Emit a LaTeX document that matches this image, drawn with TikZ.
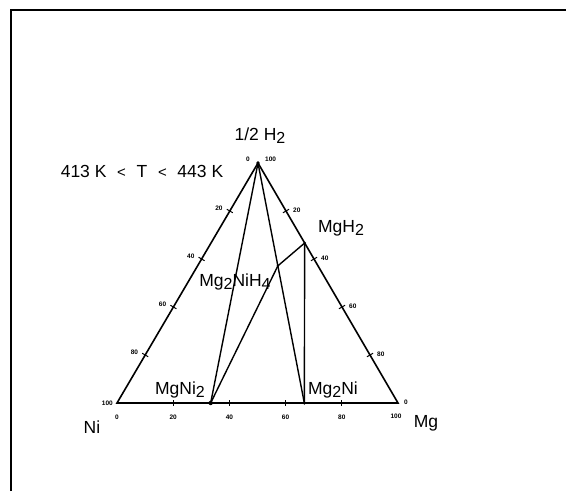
\documentclass[tikz,border=0pt]{standalone}
\usepackage{fontspec}
\setmainfont{Liberation Sans}
\usetikzlibrary{calc}
\newcommand{\sbs}[1]{\raisebox{-3pt}{\fontsize{16}{16}\selectfont #1}}
\begin{document}
\begin{tikzpicture}[x=1pt,y=-1pt,
  edge/.style={line width=1.6pt},
  tie/.style={line width=1.4pt},
  lab/.style={font=\fontsize{17.5}{17.5}\selectfont, inner sep=0pt},
  num/.style={font=\fontsize{6.5}{6.5}\selectfont\bfseries, inner sep=0pt},
  tk/.style={line width=1pt}]
\useasboundingbox (0,0) rectangle (566,491);
% frame
\draw[line width=1.5pt] (11,491) -- (11,10) -- (566,10);
% vertices
\coordinate (Ni) at (117,403);
\coordinate (Mg) at (398,403);
\coordinate (H) at (258,163);
\coordinate (MgNi2) at ($(Ni)!1/3!(Mg)$);
\coordinate (Mg2Ni) at ($(Ni)!2/3!(Mg)$);
\coordinate (MgH2) at ($(H)!1/3!(Mg)$);
\coordinate (Mg2NiH4) at ($(H)!3/7!(Mg2Ni)$);
% triangle
\draw[edge, line join=miter] (Ni) -- (H) -- (Mg) -- cycle;
% tie lines
\draw[tie] (H) -- (MgNi2);
\draw[tie] (H) -- (Mg2Ni);
\draw[tie] (MgNi2) -- (Mg2NiH4) -- (MgH2);
\draw[tie] (MgH2) -- (Mg2Ni);
\fill (MgNi2) circle (2.2pt);
\fill (Mg2Ni) circle (1.8pt);
\fill (H) circle (1.8pt);
\fill (MgH2) circle (1.4pt);
\fill (Mg2NiH4) circle (1.4pt);
% ticks and tick labels
\foreach \f/\t in {0.2/20,0.4/40,0.6/60,0.8/80}{
  \coordinate (L) at ($(H)!\f!(Ni)$);
  \draw[tk] ($(L)!3.5pt!90:(Ni)$) -- ($(L)!3.5pt!-90:(Ni)$);
  \node[num, anchor=east] at ($(L)+(-7,-3)$) {\t};
  \coordinate (R) at ($(H)!\f!(Mg)$);
  \draw[tk] ($(R)!3.5pt!90:(Mg)$) -- ($(R)!3.5pt!-90:(Mg)$);
  \node[num, anchor=west] at ($(R)+(7,-1)$) {\t};
  \coordinate (B) at ($(Ni)!\f!(Mg)$);
  \draw[tk] ($(B)+(0,-3)$) -- ($(B)+(0,3)$);
  \node[num] at ($(B)+(0,14)$) {\t};
}
\node[num] at ($(Ni)+(0,14)$) {0};
\node[num, anchor=east] at ($(Ni)+(-4,0)$) {100};
\node[num] at ($(Mg)+(-2,13)$) {100};
\node[num, anchor=west] at ($(Mg)+(6,-1)$) {0};
\node[num] at ($(H)+(-10,-4)$) {0};
\node[num, anchor=west] at ($(H)+(7,-4)$) {100};
% labels
\node[lab] (tH) at (260,136) {1/2 H\sbs{2}};
\node[lab] (tT) at (142,171) {413 K\,\, {\fontsize{15}{15}\selectfont<}\,\, T\,\, {\fontsize{15}{15}\selectfont<}\,\, 443 K};
\node[lab] (tMgH2) at (341,228) {MgH\sbs{2}};
\node[lab] (tMg2NiH4) at (235,282) {Mg\sbs{2}NiH\sbs{4}};
\node[lab] (tMgNi2) at (180,390) {MgNi\sbs{2}};
\node[lab] (tMg2Ni) at (333,390) {Mg\sbs{2}Ni};
\node[lab] (tNi) at (92,427) {Ni};
\node[lab] (tMg) at (426,423) {Mg};
\end{tikzpicture}
\end{document}
